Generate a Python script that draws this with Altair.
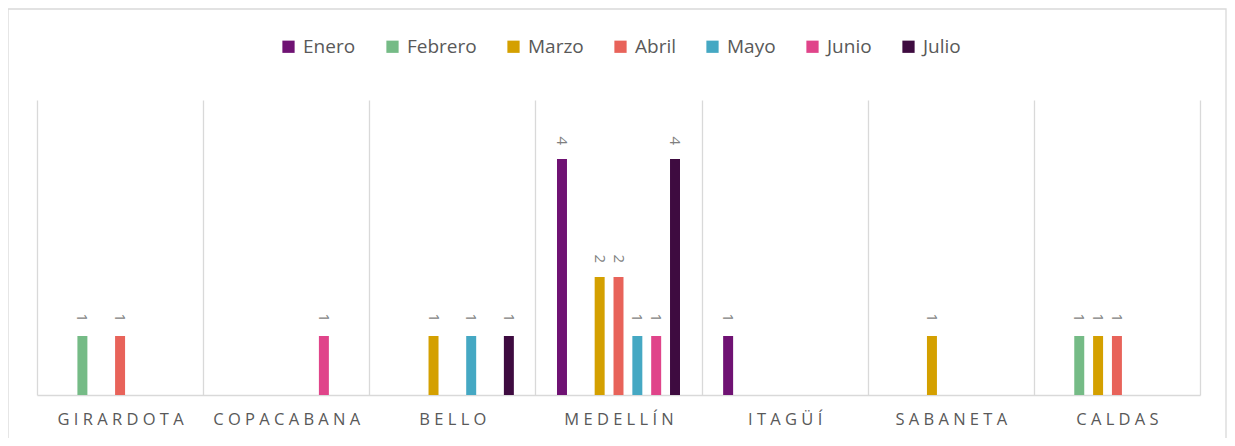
import altair as alt
import pandas as pd

municipios = ["GIRARDOTA", "COPACABANA", "BELLO", "MEDELLÍN", "ITAGÜÍ", "SABANETA", "CALDAS"]
meses = ["Enero", "Febrero", "Marzo", "Abril", "Mayo", "Junio", "Julio"]
colores = ["#6f1273", "#75bb86", "#d4a000", "#e8635a", "#45a8c3", "#e0448a", "#3e0b40"]

enero = [0, 0, 0, 4, 1, 0, 0]
febrero = [1, 0, 0, 0, 0, 0, 1]
marzo = [0, 0, 1, 2, 0, 1, 1]
abril = [1, 0, 0, 2, 0, 0, 1]
mayo = [0, 0, 1, 1, 0, 0, 0]
junio = [0, 1, 0, 1, 0, 0, 0]
julio = [0, 0, 1, 4, 0, 0, 0]

series = [enero, febrero, marzo, abril, mayo, junio, julio]
rows = []
for mes, vals in zip(meses, series):
    for mun, v in zip(municipios, vals):
        if v > 0:
            rows.append({"municipio": mun, "mes": mes, "valor": v})
df = pd.DataFrame(rows)

# empty slots at both ends of each group (spacing only)
offset_domain = ["_ini"] + meses + ["_fin"]

x_enc = alt.X(
    "municipio:N",
    sort=municipios,
    scale=alt.Scale(paddingInner=0, paddingOuter=0),
    title=None,
    axis=alt.Axis(
        grid=True,
        gridColor="#d9d9d9",
        gridWidth=1.3,
        domainColor="#d9d9d9",
        domainWidth=1.3,
        tickBand="extent",
        ticks=False,
        labelAngle=0,
        labelFontSize=16.5,
        labelColor="#595959",
        labelPadding=16,
        labelExpr="join(split(datum.label, ''), ' ')",
    ),
)
xoff_enc = alt.XOffset(
    "mes:N",
    scale=alt.Scale(domain=offset_domain, paddingInner=0.47, paddingOuter=0.145),
)
y_enc = alt.Y("valor:Q", axis=None, scale=alt.Scale(domain=[0, 5]))

base = alt.Chart(df).encode(x=x_enc, xOffset=xoff_enc, y=y_enc)

bars = base.mark_bar().encode(
    color=alt.Color(
        "mes:N",
        scale=alt.Scale(domain=meses, range=colores),
        title=None,
        legend=alt.Legend(
            orient="none",
            legendX=242,
            legendY=-63,
            direction="horizontal",
            symbolType="square",
            symbolSize=150,
            symbolStrokeWidth=0,
            labelFontSize=19,
            labelColor="#595959",
            labelOffset=5,
            columnPadding=27,
        ),
    )
)

labels = base.mark_text(
    angle=90, align="right", baseline="middle", dx=-14, fontSize=15, color="#7f7f7f"
).encode(text="valor:Q")

frame = alt.Chart(pd.DataFrame({"a": [0]})).mark_rect(
    fill="transparent", stroke="#d9d9d9", strokeWidth=1.3
).encode(
    x=alt.value(-29), x2=alt.value(1189), y=alt.value(-91), y2=alt.value(400)
)

chart = (
    alt.layer(frame, bars, labels)
    .properties(
        width=1163,
        height=295,
        padding={"left": 29, "top": 92, "right": 27, "bottom": 43},
        autosize=alt.AutoSizeParams(type="none"),
    )
    .configure(font="Open Sans")
    .configure_view(strokeWidth=0)
)

chart.save("out.html", embed_options={"renderer": "svg", "actions": False})
